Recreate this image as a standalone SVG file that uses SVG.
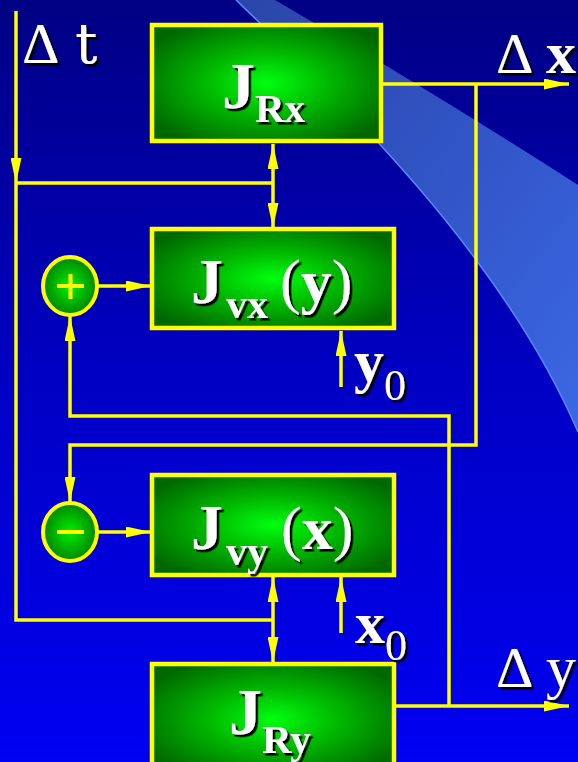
<svg xmlns="http://www.w3.org/2000/svg" width="578" height="762" viewBox="0 0 578 762">
<defs>
<linearGradient id="bg" x1="0" y1="0" x2="0" y2="1">
<stop offset="0" stop-color="#000084"/>
<stop offset="0.5" stop-color="#0000c4"/>
<stop offset="1" stop-color="#0000f2"/>
</linearGradient>
<linearGradient id="band" x1="0" y1="0" x2="1" y2="1">
<stop offset="0" stop-color="#2a46a8"/>
<stop offset="0.6" stop-color="#3358cc"/>
<stop offset="1" stop-color="#3b68e4"/>
</linearGradient>
<radialGradient id="boxg" cx="0.5" cy="0.5" r="0.6">
<stop offset="0" stop-color="#00ff10"/>
<stop offset="0.45" stop-color="#00b800"/>
<stop offset="1" stop-color="#006800"/>
</radialGradient>
<radialGradient id="cirg" cx="0.5" cy="0.5" r="0.55">
<stop offset="0" stop-color="#00f000"/>
<stop offset="1" stop-color="#007a00"/>
</radialGradient>
<filter id="sh" x="-20%" y="-20%" width="140%" height="140%">
<feDropShadow dx="2.5" dy="2.5" stdDeviation="0.4" flood-color="#000" flood-opacity="1"/>
</filter>
<marker id="ah" markerUnits="userSpaceOnUse" markerWidth="25" markerHeight="11" refX="25" refY="5.5" orient="auto" viewBox="0 0 25 11">
<path d="M0,0 L25,5.5 L0,11 Z" fill="#ffff00"/>
</marker>
<style>
.box{fill:url(#boxg);stroke:#ffff00;stroke-width:4.5}
.cir{fill:url(#cirg);stroke:#ffff00;stroke-width:4}
.ln{fill:none;stroke:#ffff00;stroke-width:3.5}
.arr{fill:none;stroke:#ffff00;stroke-width:3.5;marker-end:url(#ah)}
.sign{stroke:#ffff00;stroke-width:4;fill:none}
.t{font-family:"Liberation Serif","Times New Roman",serif;fill:#ffffff;filter:url(#sh)}
.b{font-weight:bold}
</style>
</defs>
<rect width="578" height="762" fill="url(#bg)"/>
<g id="band-shape">
<path d="M236,0 C330,90 500,250 578,432 L578,185 Q430,90 275,0 Z" fill="url(#band)"/>
<path d="M236,0 C330,90 500,250 578,432" fill="none" stroke="#5a88ff" stroke-width="1.5"/>
</g>
<g id="connectors">
<path class="arr" d="M16,11 V183"/>
<path class="ln" d="M16,183 V620 H273"/>
<path class="ln" d="M16,183 H273"/>
<path class="arr" d="M273,183 V144"/>
<path class="arr" d="M273,183 V228"/>
<path class="arr" d="M273,620 V577"/>
<path class="arr" d="M273,620 V662"/>
<path class="arr" d="M383,84 H569"/>
<path class="arr" d="M476,84 V445 H70 V502"/>
<path class="arr" d="M97,286 H151"/>
<path class="arr" d="M97,532 H151"/>
<path class="arr" d="M395,706 H569"/>
<path class="arr" d="M449,706 V416 H70 V316"/>
<path class="arr" d="M341,387 V331"/>
<path class="arr" d="M341,633 V577"/>
</g>
<g id="JRx">
<rect class="box" x="152" y="25" width="229" height="116"/>
<text class="t b" x="222" y="108" font-size="66">J<tspan font-size="41" dy="14">Rx</tspan></text>
</g>
<g id="Jvx">
<rect class="box" x="152" y="229" width="242" height="99"/>
<text class="t b" x="191" y="303" font-size="64">J</text>
<text class="t b" x="226" y="318" font-size="42">vx</text>
<text class="t" x="280" y="302" font-size="62">(<tspan class="b">y</tspan>)</text>
</g>
<g id="Jvy">
<rect class="box" x="152" y="475" width="242" height="100"/>
<text class="t b" x="191" y="549" font-size="64">J</text>
<text class="t b" x="226" y="565" font-size="42">vy</text>
<text class="t" x="281" y="549" font-size="62">(<tspan class="b">x</tspan>)</text>
</g>
<g id="JRy">
<rect class="box" x="152" y="664" width="242" height="110"/>
<text class="t b" x="229" y="734" font-size="66">J<tspan font-size="41" dy="19">Ry</tspan></text>
</g>
<g id="plus">
<ellipse class="cir" cx="70" cy="286" rx="27" ry="29"/>
<path class="sign" d="M57,286 H84 M70.5,274 V299"/>
</g>
<g id="minus">
<ellipse class="cir" cx="70" cy="532" rx="27" ry="29"/>
<path class="sign" d="M57,532 H84" stroke-width="5"/>
</g>
<g id="labels">
<text class="t" x="22" y="63" font-size="58">Δ<tspan x="75" font-family="DejaVu Serif" font-size="56">t</tspan></text>
<text class="t" x="496" y="73" font-size="58">Δ<tspan class="b" x="546" font-size="60">x</tspan></text>
<text class="t" x="496" y="687" font-size="58">Δ<tspan x="546" font-size="60">y</tspan></text>
<text class="t b" x="354" y="381" font-size="60">y<tspan font-weight="normal" font-size="44" dy="19">0</tspan></text>
<text class="t b" x="355" y="643" font-size="60">x<tspan font-weight="normal" font-size="44" dy="17">0</tspan></text>
</g>
</svg>
